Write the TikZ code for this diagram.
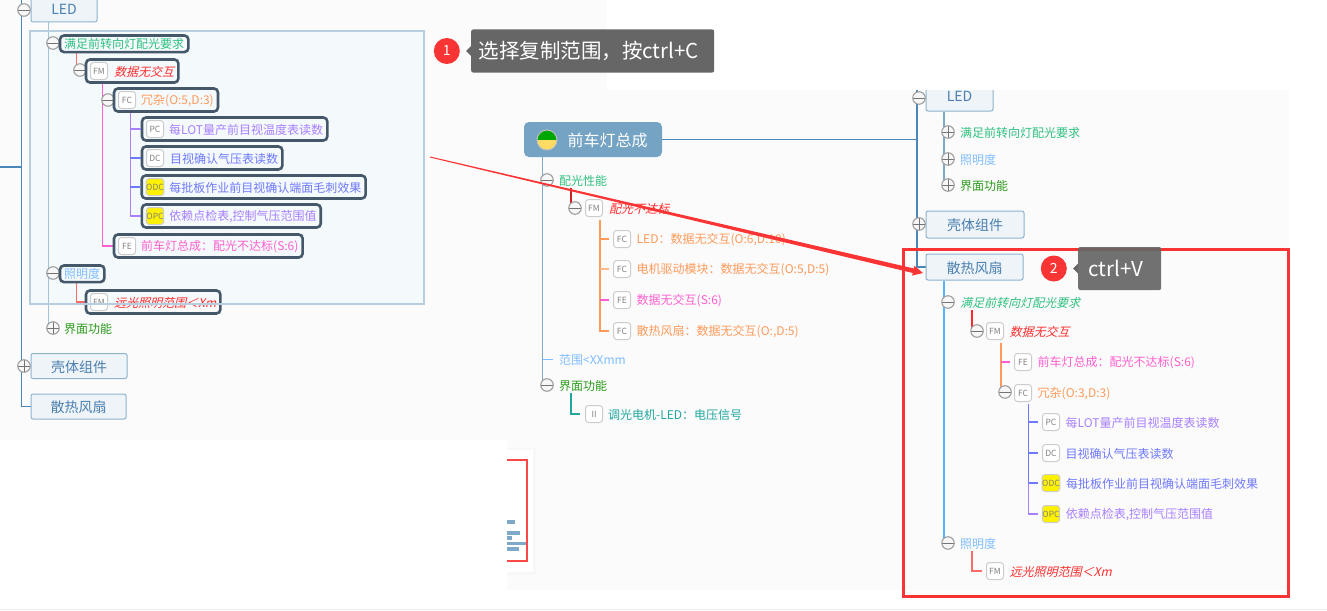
\documentclass[tikz,border=0pt]{standalone}
\usepackage{fontspec}
\setmainfont{Noto Sans CJK SC}
\newfontfamily\slantcjk[FakeSlant=0.25]{Noto Sans CJK SC}
\usetikzlibrary{positioning,calc,fit,arrows.meta}
\definecolor{panelbg}{HTML}{FBFBFB}
\definecolor{selfill}{HTML}{F4F9FC}
\definecolor{selline}{HTML}{B7CEE0}
\definecolor{trunkblue}{HTML}{4A86B8}
\definecolor{stemblue}{HTML}{7FA9C8}
\definecolor{skyblue}{HTML}{55B4FF}
\definecolor{boxfill}{HTML}{EFF4F8}
\definecolor{boxline}{HTML}{8DB3CF}
\definecolor{boxtext}{HTML}{4A7FB0}
\definecolor{rootfill}{HTML}{74A3C3}
\definecolor{hiline}{HTML}{44586A}
\definecolor{reqgreen}{HTML}{30C080}
\definecolor{lightblue}{HTML}{7FBDFF}
\definecolor{funcgreen}{HTML}{2A9A1A}
\definecolor{fmred}{HTML}{FF2B2B}
\definecolor{fcorange}{HTML}{FF9A5A}
\definecolor{femagenta}{HTML}{FF5FD0}
\definecolor{pcpurple}{HTML}{A880FF}
\definecolor{dcblue}{HTML}{6F79FF}
\definecolor{iiteal}{HTML}{20A8A0}
\definecolor{tipgray}{HTML}{666666}
\definecolor{alertred}{HTML}{F93434}
\pgfdeclarelayer{bglayer}
\pgfdeclarelayer{linelayer}
\pgfsetlayers{bglayer,linelayer,main}
\tikzset{
    >=Stealth,
    topicbox/.style={draw=boxline, fill=boxfill, rounded corners=2pt, line width=1pt, text=boxtext,
        minimum height=25pt, inner sep=0pt, text height=12.5pt, text depth=0pt, font=\fontsize{14}{16}\selectfont},
    lbl/.style={inner sep=0pt, yshift=-0.8pt, text=#1, font=\fontsize{12}{14}\selectfont},
    fmlbl/.style={inner sep=0pt, yshift=-0.8pt, text=fmred, font=\fontsize{12}{14}\slantcjk},
    icon/.style={draw=black!20, fill=white, rounded corners=3pt, line width=1pt, minimum size=17pt,
        inner sep=0pt, text=black!50, font=\fontsize{8.5}{9}\selectfont},
    odcicon/.style={icon, fill=yellow},
    foldminus/.style={circle, draw=black!38, fill=white!97!black, line width=1.1pt, minimum size=12.5pt, inner sep=0pt,
        path picture={\draw[black!55, line width=0.9pt] (path picture bounding box.west) -- (path picture bounding box.east);}},
    foldplus/.style={foldminus,
        path picture={\draw[black!55, line width=0.9pt] (path picture bounding box.west) -- (path picture bounding box.east)
            (path picture bounding box.north) -- (path picture bounding box.south);}},
    hibox/.style={draw=hiline, rounded corners=4pt, line width=2.6pt, inner xsep=4pt, inner ysep=2.5pt},
    tipbox/.style={fill=tipgray, rounded corners=2pt, text=white, minimum height=43pt, inner xsep=0pt,
        font=\fontsize{20.5}{24}\selectfont},
    badge/.style={circle, fill=alertred, text=white, minimum size=26pt, inner sep=0pt, font=\fontsize{14}{16}\selectfont},
    link/.style={line width=1.3pt, #1},
    branch/.style={line width=1.3pt, #1, shorten >=4pt},
}
\begin{document}
\begin{tikzpicture}[x=1pt, y=-1pt]
    \useasboundingbox (0,0) rectangle (1327,610);

    % left copy
    \node[foldminus] (ledlc) at (24,10) {};
    \node[topicbox, minimum width=66pt, minimum height=27pt] (ledl) at (64,8.5) {LED};
    \node[foldminus] (reqlc) at (53,43) {};
    \node[lbl=reqgreen, anchor=west] (reql) at (64,43) {满足前转向灯配光要求};
    \node[foldminus] (fmlc) at (80,70) {};
    \node[icon] (fmli) at (99,71) {FM};
    \node[fmlbl, right=6pt of fmli] (fml) {数据无交互};
    \node[foldminus] (fclc) at (108,100) {};
    \node[icon] (fcli) at (127,100) {FC};
    \node[lbl=fcorange, right=5pt of fcli] (fcl) {冗杂(O:5,D:3)};
    \node[icon] (pcli) at (155,129) {PC};
    \node[lbl=pcpurple, right=5pt of pcli] (pcl) {每LOT量产前目视温度表读数};
    \node[icon] (dcli) at (155,158) {DC};
    \node[lbl=dcblue, right=6pt of dcli] (dcl) {目视确认气压表读数};
    \node[odcicon] (odcli) at (155,187) {ODC};
    \node[lbl=dcblue, right=5pt of odcli] (odcl) {每批板作业前目视确认端面毛刺效果};
    \node[odcicon] (opcli) at (155,216) {OPC};
    \node[lbl=pcpurple, right=5pt of opcli] (opcl) {依赖点检表,控制气压范围值};
    \node[icon] (feli) at (127,246) {FE};
    \node[lbl=femagenta, right=5pt of feli] (fel) {前车灯总成：配光不达标(S:6)};
    \node[foldminus] (lumlc) at (53,273) {};
    \node[lbl=lightblue, anchor=west] (luml) at (64,273) {照明度};
    \node[icon] (rngli) at (99,302) {FM};
    \node[fmlbl, right=6pt of rngli] (rngl) {远光照明范围＜Xm};
    \node[foldplus] (funclc) at (53,328) {};
    \node[lbl=funcgreen, anchor=west] (funcl) at (64,328) {界面功能};
    \node[topicbox, minimum width=96pt] (shelll) at (79,366) {壳体组件};
    \node[foldplus] (shelllc) at (24,366) {};
    \node[topicbox, minimum width=95pt] (fanl) at (78.5,406.5) {散热风扇};

    % dark frames of the selection
    \node[hibox, fit=(reql)] (reqlb) {};
    \node[hibox, fit=(fmli)(fml)] (fmlb) {};
    \node[hibox, fit=(fcli)(fcl)] (fclb) {};
    \node[hibox, fit=(pcli)(pcl)] (pclb) {};
    \node[hibox, fit=(dcli)(dcl)] (dclb) {};
    \node[hibox, fit=(odcli)(odcl)] (odclb) {};
    \node[hibox, fit=(opcli)(opcl)] (opclb) {};
    \node[hibox, fit=(feli)(fel)] (felb) {};
    \node[hibox, fit=(luml)] (lumlb) {};
    \node[hibox, fit=(rngli)(rngl)] (rnglb) {};

    % source tree in the middle
    \node[draw=none, fill=rootfill, rounded corners=5pt, minimum width=138pt, minimum height=35pt] (rootm) at (593,139.5) {};
    \node[circle, draw=white!75!black, line width=1pt, minimum size=20pt, inner sep=0pt,
        path picture={\fill[yellow!60!orange!60!white] (path picture bounding box.south west) rectangle (path picture bounding box.east);
            \fill[green!65!black] (path picture bounding box.north west) rectangle (path picture bounding box.east);}] (rootmi) at (547,140) {};
    \node[inner sep=0pt, text=white, font=\fontsize{16}{18}\selectfont, right=10pt of rootmi] (rootmt) {前车灯总成};
    \node[foldminus] (optmc) at (547,180) {};
    \node[lbl=reqgreen, anchor=west] (optm) at (559,180) {配光性能};
    \node[foldminus] (fmmc) at (575,208) {};
    \node[icon] (fmmi) at (594,208) {FM};
    \node[fmlbl, right=6pt of fmmi] (fmm) {配光不达标};
    \node[icon] (ledmi) at (622,239) {FC};
    \node[lbl=fcorange, right=5.5pt of ledmi] (ledm) {LED：数据无交互(O:6,D:10)};
    \node[icon] (motmi) at (622,269) {FC};
    \node[lbl=fcorange, right=5.5pt of motmi] (motm) {电机驱动模块：数据无交互(O:5,D:5)};
    \node[icon] (datmi) at (622,300) {FE};
    \node[lbl=femagenta, right=5.5pt of datmi] (datm) {数据无交互(S:6)};
    \node[icon] (fanmi) at (622,331) {FC};
    \node[lbl=fcorange, right=5.5pt of fanmi] (fanm) {散热风扇：数据无交互(O:,D:5)};
    \node[lbl=lightblue, anchor=west] (rngm) at (559,359) {范围<XXmm};
    \node[foldminus] (funcmc) at (547,385) {};
    \node[lbl=funcgreen, anchor=west] (funcm) at (559,385) {界面功能};
    \node[icon] (iimi) at (594,414) {II};
    \node[lbl=iiteal, right=5pt of iimi] (iim) {调光电机-LED：电压信号};

    % pasted tree on the right
    \begin{scope}
        \clip (900,90) rectangle (1000,120);
        \node[topicbox, minimum width=67pt, minimum height=31pt] (ledr) at (959.5,95.5) {LED};
    \end{scope}
    \node[foldminus] (ledrc) at (919,98) {};
    \node[foldplus] (reqrc) at (948,132) {};
    \node[lbl=reqgreen, anchor=west] (reqr) at (960,132) {满足前转向灯配光要求};
    \node[foldplus] (lumrc) at (948,159) {};
    \node[lbl=lightblue, anchor=west] (lumr) at (960,159) {照明度};
    \node[foldplus] (funcrc) at (948,185) {};
    \node[lbl=funcgreen, anchor=west] (funcr) at (960,185) {界面功能};
    \node[topicbox, minimum width=98pt, minimum height=27pt] (shellr) at (975,224.5) {壳体组件};
    \node[foldplus] (shellrc) at (919,224) {};
    \node[topicbox, minimum width=97pt, minimum height=26pt] (fanr) at (974.5,267) {散热风扇};
    \node[foldminus] (req2rc) at (948,302) {};
    \node[inner sep=0pt, yshift=-0.8pt, text=reqgreen, font=\fontsize{12}{14}\slantcjk, anchor=west] (req2r) at (960,302) {满足前转向灯配光要求};
    \node[foldminus] (fmrc) at (977,331) {};
    \node[icon] (fmri) at (995,331) {FM};
    \node[fmlbl, right=5.5pt of fmri] (fmr) {数据无交互};
    \node[icon] (feri) at (1023,362) {FE};
    \node[lbl=femagenta, right=5.5pt of feri] (fer) {前车灯总成：配光不达标(S:6)};
    \node[foldminus] (fcrc) at (1005,392) {};
    \node[icon] (fcri) at (1023,393) {FC};
    \node[lbl=fcorange, right=5.5pt of fcri] (fcr) {冗杂(O:3,D:3)};
    \node[icon] (pcri) at (1051,422) {PC};
    \node[lbl=pcpurple, right=5.5pt of pcri] (pcr) {每LOT量产前目视温度表读数};
    \node[icon] (dcri) at (1051,453) {DC};
    \node[lbl=dcblue, right=5.5pt of dcri] (dcr) {目视确认气压表读数};
    \node[odcicon] (odcri) at (1051,483) {ODC};
    \node[lbl=dcblue, right=5.5pt of odcri] (odcr) {每批板作业前目视确认端面毛刺效果};
    \node[odcicon] (opcri) at (1051,514) {OPC};
    \node[lbl=pcpurple, right=5.5pt of opcri] (opcr) {依赖点检表,控制气压范围值};
    \node[foldminus] (lumr2c) at (948,543) {};
    \node[lbl=lightblue, anchor=west] (lum2r) at (960,543) {照明度};
    \node[icon] (rngri) at (995,571) {FM};
    \node[fmlbl, right=5.5pt of rngri] (rngr) {远光照明范围＜Xm};

    \coordinate (stubl) at (0,167);
    \coordinate (trunkl) at (21.5,0);
    \coordinate (trunkr) at (917,90);

    \begin{pgfonlayer}{bglayer}
        \fill[panelbg] (0,0) rectangle (607,90);
        \fill[panelbg] (0,90) rectangle (507,440);
        \fill[panelbg] (507,90) rectangle (1289,590);
        \fill[selfill] (30,31) rectangle (424,304);
        \fill[black!3] (505,448) rectangle (536,575);
        \fill[white] (507,450) rectangle (533,572);
        \fill[white] (0,440) rectangle (507,610);
        \draw[alertred!90, line width=1.1pt] (507,460) -| (527,561) -- (507,561);
        \foreach \bary/\barx in {522/515, 533/520, 538/512, 543.5/526, 549/519}
            \fill[stemblue] (507,\bary-1.8) rectangle (\barx,\bary+1.8);
        \fill[black!8] (0,609) rectangle (1327,610);
    \end{pgfonlayer}

    \begin{pgfonlayer}{linelayer}
        % left copy
        \draw[link=trunkblue] (trunkl) |- (fanl.west);
        \draw[link=trunkblue] (stubl) -- (stubl -| trunkl);
        \draw[link=stemblue!70] ([xshift=18pt]ledl.south west) |- (funclc.center);
        \draw[link=fmred!70] ([xshift=18pt]reqlb.south west) |- (fmlc.center);
        \draw[link=femagenta] ([xshift=18pt]fmlb.south west) |- (fclb.west |- feli);
        \draw[link=pcpurple] ([xshift=17.5pt]fclb.south west) |- (opclb.west);
        \draw[link=fmred!70] ([xshift=18pt]lumlb.south west) |- (rnglb.west);

        % middle
        \draw[link=stemblue] ([xshift=19pt]rootm.south west) |- (funcmc.center);
        \draw[branch=lightblue, shorten >=6pt] ([xshift=19pt]rootm.south west |- rngm.west) -- (rngm.west);
        \draw[link=fmred!80!black] ([xshift=12pt,yshift=-1pt]optm.south west) |- (fmmc.center);
        \draw[link=fcorange] ([shift={(6pt,-3pt)}]fmmi.south) |- ([xshift=-4pt]fanmi.west);
        \draw[branch=fcorange!70] ([xshift=6pt]fmmi.south |- motmi.west) -- (motmi.west);
        \draw[branch=femagenta] ([xshift=6pt]fmmi.south |- datmi.west) -- (datmi.west);
        \draw[branch=fcorange] ([xshift=6pt]fmmi.south |- ledmi.west) -- (ledmi.west);
        \draw[link=iiteal] ([xshift=12pt,yshift=-1pt]funcm.south west) |- ([xshift=-5pt]iimi.west);

        % right
        \draw[link=trunkblue, line width=1.7pt] (rootm.east) -- (rootm.east -| trunkr);
        \draw[link=trunkblue] (trunkr) |- (fanr.west);
        \draw[link=stemblue] ([xshift=18.5pt]ledr.south west) |- (funcrc.center);
        \draw[link=skyblue] ([xshift=18.5pt]fanr.south west) |- (lumr2c.center);
        \draw[link=fmred] ([xshift=12pt,yshift=-1pt]req2r.south west) |- (fmrc.center);
        \draw[link=fcorange] ([shift={(6pt,-3pt)}]fmri.south) |- (fcrc.center);
        \draw[branch=femagenta] ([xshift=6pt]fmri.south |- feri.west) -- (feri.west);
        \draw[link=dcblue] ([shift={(5.5pt,-2pt)}]fcri.south) -- ([xshift=5.5pt]fcri.south |- odcri.west);
        \draw[link=pcpurple] ([xshift=5.5pt]fcri.south |- odcri.west) |- ([xshift=-4pt]opcri.west);
        \draw[branch=dcblue] ([xshift=5.5pt]fcri.south |- pcri.west) -- (pcri.west);
        \draw[branch=dcblue] ([xshift=5.5pt]fcri.south |- dcri.west) -- (dcri.west);
        \draw[branch=dcblue] ([xshift=5.5pt]fcri.south |- odcri.west) -- (odcri.west);
        \draw[link=fmred!70] ([xshift=12pt,yshift=-1pt]lum2r.south west) |- ([xshift=-4pt]rngri.west);
    \end{pgfonlayer}

    % branches into the dark frames, then the selection outline
    \draw[link=pcpurple] ([xshift=17.5pt]fclb.south west |- pclb.west) -- (pclb.west);
    \draw[link=dcblue] ([xshift=17.5pt]fclb.south west |- dclb.west) -- (dclb.west);
    \draw[link=dcblue] ([xshift=17.5pt]fclb.south west |- odclb.west) -- (odclb.west);
    \draw[selline, line width=1.2pt] (30,31) rectangle (424,304);

    % red frame and callouts
    \draw[alertred, line width=3pt] (903.5,249.5) rectangle (1288.5,596);
    \coordinate (arrowtail) at (430,157);
    \coordinate (arrowtip) at (923,273);
    \coordinate (arrowneck) at ($(arrowtip)!10pt!(arrowtail)$);
    \fill[alertred] ($(arrowtail)!0.5pt!90:(arrowtip)$) -- ($(arrowneck)!2.3pt!90:(arrowtip)$) -- ($(arrowneck)!5pt!90:(arrowtip)$)
        -- (arrowtip) -- ($(arrowneck)!5pt!-90:(arrowtip)$) -- ($(arrowneck)!2.3pt!-90:(arrowtip)$) -- ($(arrowtail)!0.5pt!-90:(arrowtip)$) -- cycle;

    \node[tipbox, anchor=west, minimum width=243pt] (tipone) at (471,51) {选择复制范围，按ctrl+C\kern8pt};
    \node[badge, left=11pt of tipone] (badgeone) {1};
    \fill[tipgray] ([yshift=5pt]tipone.west) -- ([xshift=-5pt]tipone.west) -- ([yshift=-5pt]tipone.west) -- cycle;
    \node[tipbox, anchor=west, minimum width=83pt, opacity=0.92, text opacity=1] (tiptwo) at (1078,268.5) {ctrl+V\kern8pt};
    \node[badge, left=11pt of tiptwo] (badgetwo) {2};
    \fill[tipgray] ([yshift=5pt]tiptwo.west) -- ([xshift=-5pt]tiptwo.west) -- ([yshift=-5pt]tiptwo.west) -- cycle;
\end{tikzpicture}
\end{document}
